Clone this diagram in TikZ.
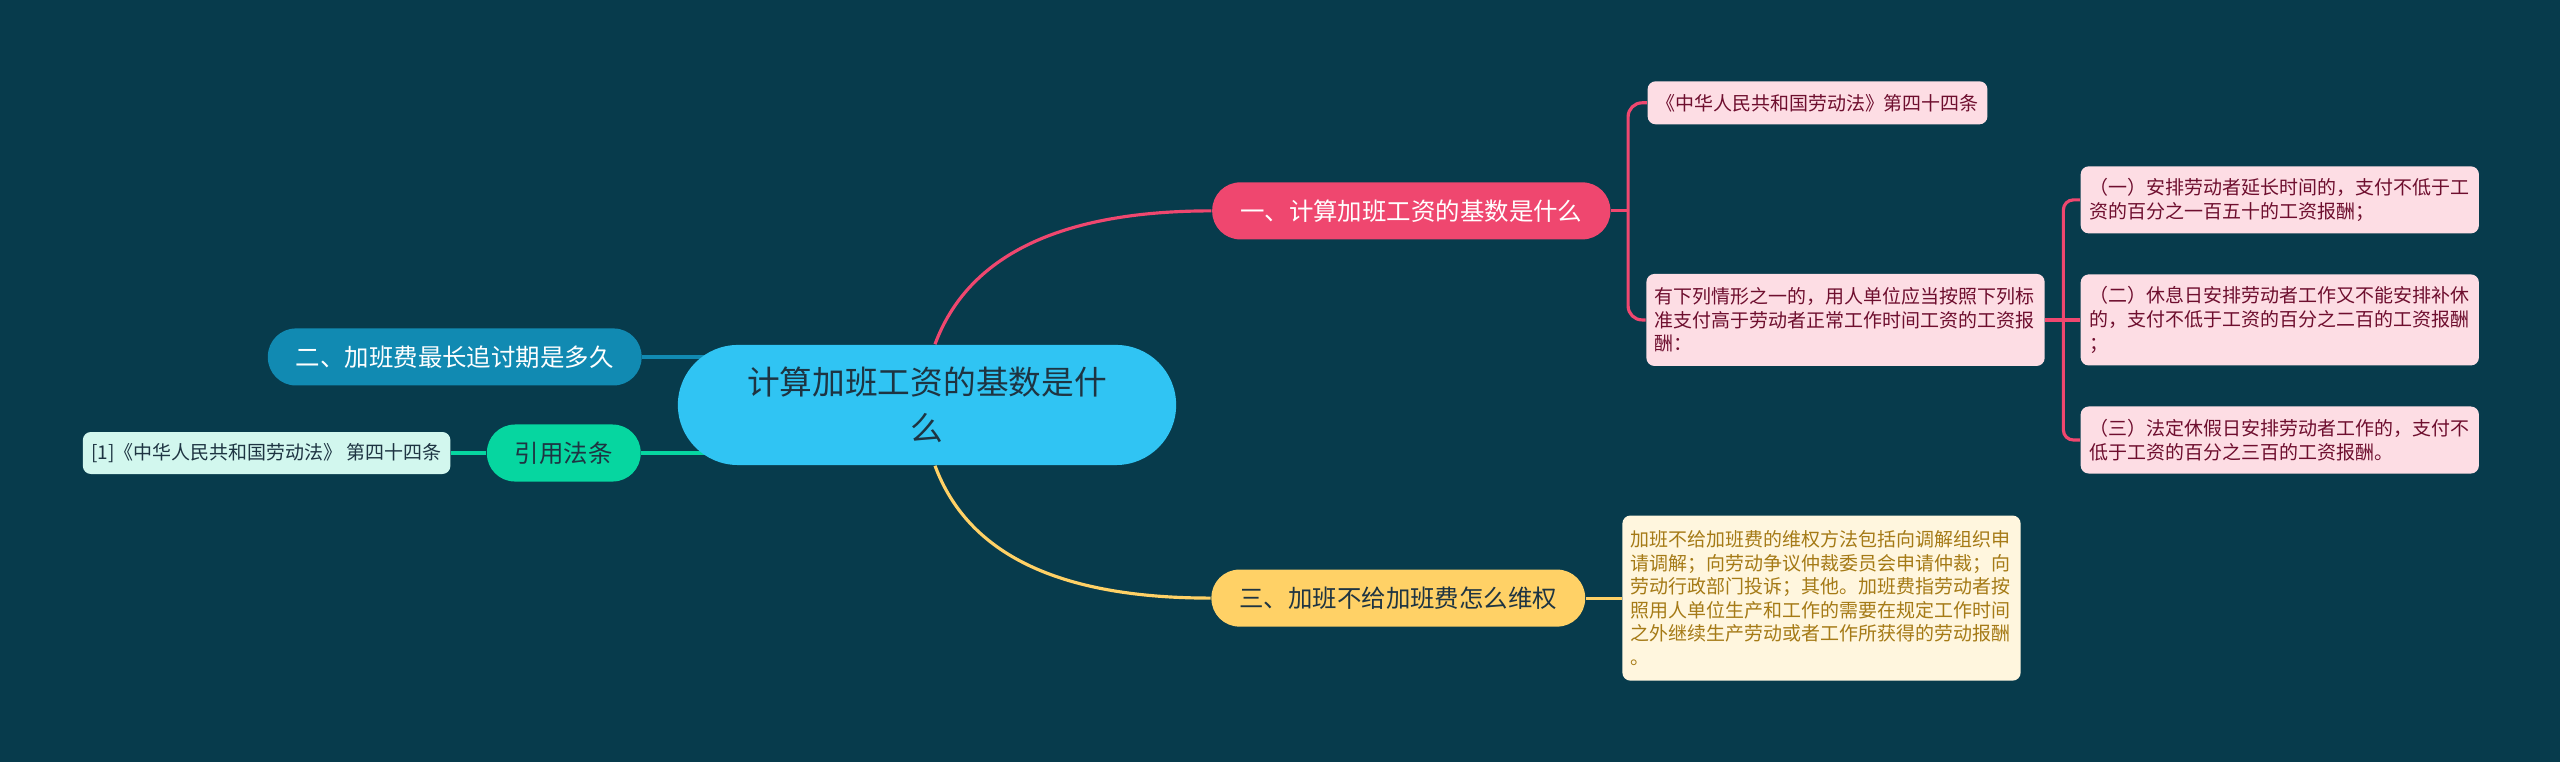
\documentclass[tikz,border=0pt]{standalone}
\usepackage{fontspec}
\setmainfont{Noto Sans CJK SC}
\usetikzlibrary{backgrounds}
\definecolor{bgcol}{HTML}{073B4C}
\definecolor{rootcol}{HTML}{30C4F3}
\definecolor{pinkcol}{HTML}{EF476F}
\definecolor{bluecol}{HTML}{118AB2}
\definecolor{greencol}{HTML}{06D6A0}
\definecolor{yellowcol}{HTML}{FFD166}
\definecolor{pinkleaf}{HTML}{FDDDE4}
\definecolor{pinktext}{HTML}{6E0E2E}
\definecolor{yellowleaf}{HTML}{FFF6DE}
\definecolor{yellowtext}{HTML}{A57A16}
\definecolor{greenleaf}{HTML}{D2F7EE}
\definecolor{darktext}{HTML}{1E3442}

\begin{document}
\begin{tikzpicture}[x=0.01cm, y=-0.01cm, node distance=1cm,
        topic/.style={fill=rootcol, text=darktext, rounded corners=0.6cm, minimum width=4.98cm, minimum height=1.2cm, align=center, font=\fontsize{9.3}{13.1}\selectfont},
        branch/.style={rounded corners=0.28cm, minimum height=0.57cm, inner xsep=0.28cm, inner ysep=0pt, font=\fontsize{6.95}{8}\selectfont},
        leaf/.style={rounded corners=0.08cm, inner xsep=0.085cm, inner ysep=0pt, align=left, font=\fontsize{5.4}{6.7}\selectfont},
        link/.style={line width=0.9pt}]
        \useasboundingbox (0,0) rectangle (2560,762);

        \node [topic] (1) at (927,405) {计算加班工资的基数是什\\么};
        \node [branch, fill=pinkcol, text=white, right of=1, xshift=3.84cm, yshift=1.94cm] (2) {一、计算加班工资的基数是什么};
        \node [branch, fill=yellowcol, text=darktext, right of=1, xshift=3.71cm, yshift=-1.93cm] (8) {三、加班不给加班费怎么维权};
        \node [branch, fill=bluecol, text=white, left of=1, xshift=-3.72cm, yshift=0.48cm] (10) {二、加班费最长追讨期是多久};
        \node [branch, fill=greencol, text=darktext, left of=1, xshift=-2.63cm, yshift=-0.48cm] (11) {引用法条};

        \node [leaf, fill=pinkleaf, text=pinktext, minimum height=0.43cm, right of=2, xshift=3.06cm, yshift=1.08cm] (3) {《中华人民共和国劳动法》第四十四条};
        \node [leaf, fill=pinkleaf, text=pinktext, text width=3.81cm, minimum height=0.92cm, right of=2, xshift=3.34cm, yshift=-1.09cm] (4) {有下列情形之一的，用人单位应当按照下列标\\准支付高于劳动者正常工作时间工资的工资报\\酬：};
        \node [leaf, fill=pinkleaf, text=pinktext, text width=3.81cm, minimum height=0.67cm, right of=4, xshift=3.34cm, yshift=1.2cm] (5) {（一）安排劳动者延长时间的，支付不低于工\\资的百分之一百五十的工资报酬；};
        \node [leaf, fill=pinkleaf, text=pinktext, text width=3.81cm, minimum height=0.91cm, right of=4, xshift=3.34cm] (6) {（二）休息日安排劳动者工作又不能安排补休\\的，支付不低于工资的百分之二百的工资报酬\\；};
        \node [leaf, fill=pinkleaf, text=pinktext, text width=3.81cm, minimum height=0.67cm, right of=4, xshift=3.34cm, yshift=-1.2cm] (7) {（三）法定休假日安排劳动者工作的，支付不\\低于工资的百分之三百的工资报酬。};
        \node [leaf, fill=yellowleaf, text=yellowtext, text width=3.81cm, minimum height=1.65cm, right of=8, xshift=3.23cm] (9) {加班不给加班费的维权方法包括向调解组织申\\请调解；向劳动争议仲裁委员会申请仲裁；向\\劳动行政部门投诉；其他。加班费指劳动者按\\照用人单位生产和工作的需要在规定工作时间\\之外继续生产劳动或者工作所获得的劳动报酬\\。};
        \node [leaf, fill=greenleaf, text=darktext, minimum height=0.42cm, left of=11, xshift=-1.97cm] (12) {[1]《中华人民共和国劳动法》 第四十四条};

        \coordinate (j1) at ([xshift=0.17cm]2.east);
        \coordinate (j2) at ([xshift=0.18cm]4.east);

        \begin{pgfonlayer}{background}
        \fill [bgcol] (0,0) rectangle (2560,762);
        \draw [link, pinkcol] ([xshift=0.08cm]1.north) .. controls +(33,-89) and +(-151,0) .. (2.west);
        \draw [link, yellowcol] ([xshift=0.08cm]1.south) .. controls +(33,89) and +(-151,0) .. (8.west);
        \draw [link, bluecol] (10.east) -- (10.east -| 1.center);
        \draw [link, greencol] (11.east) -- (11.east -| 1.center);
        \draw [link, greencol] (11.west) -- (12.east);
        \draw [link, yellowcol] (8.east) -- (9.west);
        \draw [link, pinkcol] (2.east) -- (j1);
        \draw [link, pinkcol, rounded corners=0.14cm] (j1) |- (3.west);
        \draw [link, pinkcol, rounded corners=0.14cm] (j1) |- (4.west);
        \draw [link, pinkcol] (4.east) -- (j2);
        \draw [link, pinkcol, rounded corners=0.1cm] (j2) |- (5.west);
        \draw [link, pinkcol] (j2) -- (6.west);
        \draw [link, pinkcol, rounded corners=0.1cm] (j2) |- (7.west);
        \end{pgfonlayer}
      \end{tikzpicture}
\end{document}
